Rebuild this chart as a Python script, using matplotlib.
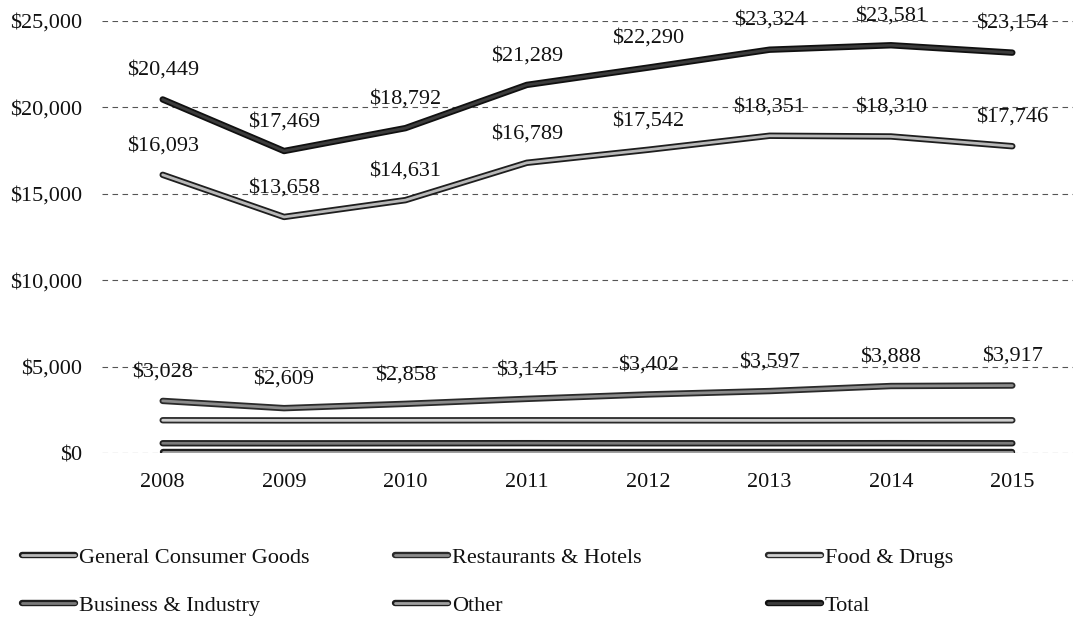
import matplotlib
matplotlib.use("Agg")
import matplotlib.pyplot as plt
import matplotlib.patheffects as pe
from matplotlib.ticker import FuncFormatter

years = ["2008", "2009", "2010", "2011", "2012", "2013", "2014", "2015"]
general_consumer_goods = [16093, 13658, 14631, 16789, 17542, 18351, 18310, 17746]
restaurants_hotels = [3028, 2609, 2858, 3145, 3402, 3597, 3888, 3917]
food_drugs = [1910, 1900, 1905, 1910, 1905, 1900, 1905, 1910]
business_industry = [580, 575, 580, 585, 580, 580, 585, 580]
other = [80, 80, 80, 80, 80, 80, 80, 80]
total = [20449, 17469, 18792, 21289, 22290, 23324, 23581, 23154]

labeled_series = [total, general_consumer_goods, restaurants_hotels]

plt.rcParams['font.family'] = ['Liberation Serif', 'DejaVu Serif']
FS = 16

fig = plt.figure(figsize=(10.73, 6.17), dpi=100)
ax = fig.add_axes([102 / 1073, 1 - 453.3 / 617, (1073 - 102) / 1073, (453.3 - 20.7) / 617])

x = list(range(len(years)))

styles = {
    "General Consumer Goods": (general_consumer_goods, "#1e1e1e", "#b8b8b8"),
    "Restaurants & Hotels": (restaurants_hotels, "#2a2a2a", "#8c8c8c"),
    "Food & Drugs": (food_drugs, "#2a2a2a", "#d0d0d0"),
    "Business & Industry": (business_industry, "#1e1e1e", "#7a7a7a"),
    "Other": (other, "#1e1e1e", "#a0a0a0"),
    "Total": (total, "#101010", "#3c3c3c"),
}

handles = {}
for name, (vals, edge, inner) in styles.items():
    ln, = ax.plot(x, vals, color=inner, lw=2.0, solid_capstyle='round',
                  solid_joinstyle='round', label=name,
                  path_effects=[pe.Stroke(linewidth=4.6, foreground=edge, capstyle='round'),
                                pe.Normal()])
    handles[name] = ln

for vals in labeled_series:
    for xi, v in zip(x, vals):
        ax.annotate(f"${v:,}", (xi, v), xytext=(0, 21), textcoords='offset points',
                    ha='center', va='center', fontsize=FS, color='#111111')

ax.set_xlim(-0.5, len(years) - 0.5)
ax.set_ylim(0, 25000)
ax.set_yticks(range(0, 25001, 5000))
ax.yaxis.set_major_formatter(FuncFormatter(lambda v, p: f"${int(v):,}"))
ax.set_xticks(x)
ax.set_xticklabels(years)
ax.tick_params(axis='both', length=0, labelsize=FS, colors='#111111')
ax.tick_params(axis='x', pad=14)
ax.tick_params(axis='y', pad=14)
for s in ax.spines.values():
    s.set_visible(False)
ax.grid(axis='y', color='#555555', lw=0.8, linestyle=(0, (5, 4)))
ax.set_axisbelow(True)

cols = [["General Consumer Goods", "Business & Industry"],
        ["Restaurants & Hotels", "Other"],
        ["Food & Drugs", "Total"]]
xstarts = [22, 395, 768]
for names, xs in zip(cols, xstarts):
    leg = fig.legend([handles[n] for n in names], names, loc='center left',
                     bbox_to_anchor=(xs / 1073, 1 - 581.5 / 617), frameon=False,
                     fontsize=FS, handlelength=2.4, handletextpad=0.15,
                     borderpad=0, borderaxespad=0, labelspacing=1.25)
    for t in leg.get_texts():
        t.set_color('#111111')

fig.savefig("out.png", dpi=100)
